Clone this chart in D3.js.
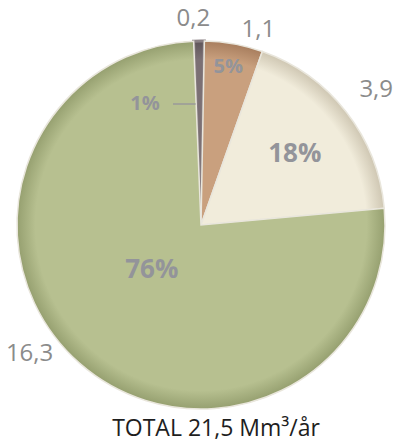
<!DOCTYPE html>
<html><head><meta charset="utf-8">
<script src="https://cdn.jsdelivr.net/npm/d3@7/dist/d3.min.js"></script>
<style>body{margin:0;background:#fff}svg{display:block}</style>
</head><body>
<svg id="c" width="404" height="447"></svg>
<script>
const values = [0.2, 1.1, 3.9, 16.3];
const valueLabels = ["0,2", "1,1", "3,9", "16,3"];
const percentLabels = ["1%", "5%", "18%", "76%"];
const colors = ["#7b7074", "#c9a07e", "#f1ecdb", "#b7c090"];
const rimColors = ["#5e5458", "#a87e5e", "#cfc7b3", "#96a070"];
const title = "TOTAL 21,5 Mm³/år";

const svg = d3.select("#c");
const cx = 201, cy = 225, R = 184;
const deg = Math.PI / 180;
const g = svg.append("g").attr("transform", `translate(${cx},${cy})`);

const pie = d3.pie().sort(null).startAngle(-2.3 * deg).endAngle(357.7 * deg);
const arcs = pie(values);
const arc = d3.arc().innerRadius(0).outerRadius(R);

const defs = svg.append("defs");
colors.forEach((c, i) => {
  const rg = defs.append("radialGradient").attr("id", "rg" + i)
    .attr("gradientUnits", "userSpaceOnUse").attr("cx", 0).attr("cy", 0).attr("r", R);
  rg.append("stop").attr("offset", "0%").attr("stop-color", c);
  rg.append("stop").attr("offset", "90%").attr("stop-color", c);
  rg.append("stop").attr("offset", "100%").attr("stop-color", rimColors[i]);
});

g.selectAll("path.slice").data(arcs).enter().append("path")
  .attr("class", "slice")
  .attr("d", arc)
  .attr("fill", (d, i) => `url(#rg${i})`)
  .attr("stroke", (d, i) => i === 0 ? "#8a8084" : "#e9e6dc")
  .attr("stroke-width", (d, i) => i === 0 ? 3 : 1.5);

// value labels outside
const outR = [208, 205, 222, 214];
const outShift = [-1.5, 6, 0, 12];
g.selectAll("text.val").data(arcs).enter().append("text")
  .attr("class", "val")
  .attr("transform", (d, i) => {
    const a = (d.startAngle + d.endAngle) / 2 + outShift[i] * deg;
    return `translate(${Math.sin(a) * outR[i]},${-Math.cos(a) * outR[i]})`;
  })
  .attr("text-anchor", "middle").attr("dy", "0.35em")
  .attr("font-family", "'Open Sans', sans-serif").attr("font-size", 24)
  .attr("fill", "#8b8b8b")
  .text((d, i) => valueLabels[i]);

// percent labels
const inR = [0, 161, 118, 66];
const inShift = [0, -0.5, 0.5, 7];
g.selectAll("text.pct").data(arcs).enter().append("text")
  .attr("class", "pct")
  .attr("transform", (d, i) => {
    if (i === 0) {
      return `translate(${-56},${-122})`;
    }
    const a = (d.startAngle + d.endAngle) / 2 + inShift[i] * deg;
    return `translate(${Math.sin(a) * inR[i]},${-Math.cos(a) * inR[i]})`;
  })
  .attr("text-anchor", "middle").attr("dy", "0.35em")
  .attr("font-family", "'Open Sans', sans-serif").attr("font-weight", "bold")
  .attr("font-size", (d, i) => [20, 20, 26, 26][i])
  .attr("fill", "#93949a")
  .text((d, i) => percentLabels[i]);

// leader line for 1%
const a0 = (arcs[0].startAngle + arcs[0].endAngle) / 2;
g.append("line")
  .attr("x1", -28).attr("y1", -121)
  .attr("x2", Math.sin(a0) * 122 - 4).attr("y2", -121)
  .attr("stroke", "#9a9a9a").attr("stroke-width", 1.5);

svg.append("text")
  .attr("x", 216).attr("y", 436)
  .attr("text-anchor", "middle")
  .attr("font-family", "'Open Sans', sans-serif").attr("font-size", 23)
  .attr("fill", "#1e1e1e")
  .text(title);
</script>
</body></html>
